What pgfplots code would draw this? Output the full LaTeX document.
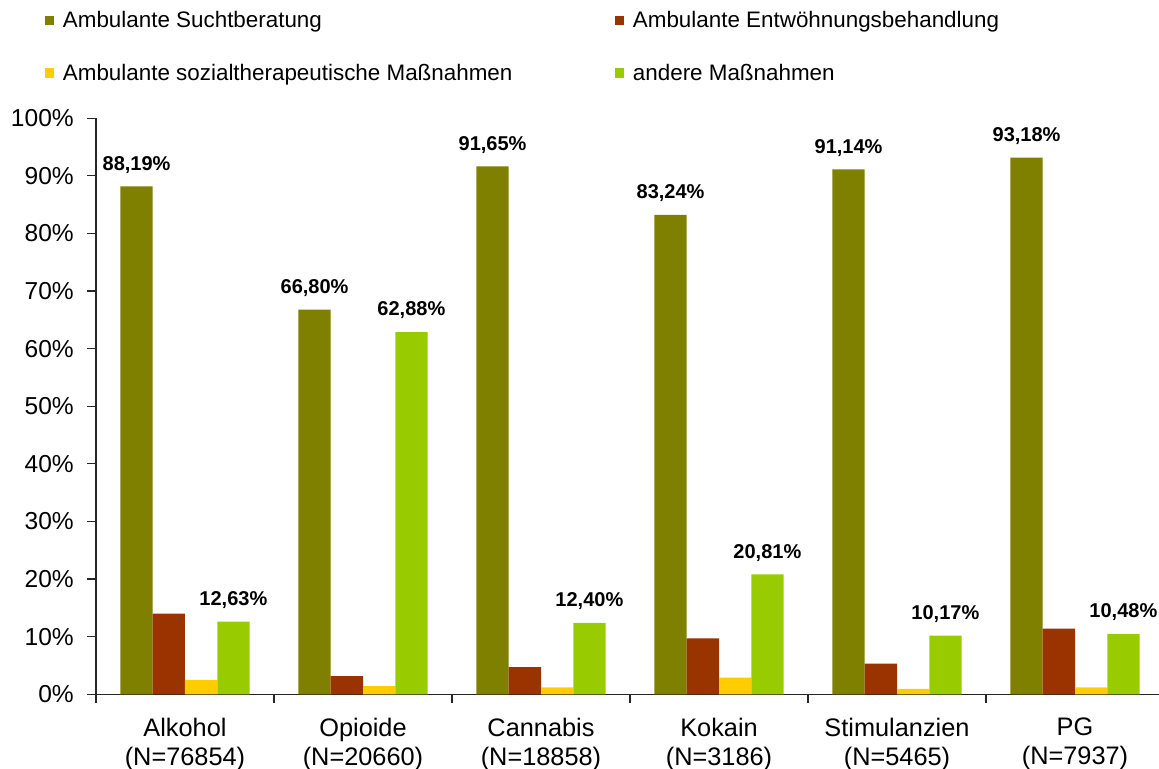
\documentclass[border=0pt]{standalone}
\usepackage{pgfplots}
\pgfplotsset{compat=1.18}
\usepackage{fontspec}
\setmainfont{Liberation Sans}
\definecolor{cA}{RGB}{128,128,0}
\definecolor{cB}{RGB}{153,51,0}
\definecolor{cC}{RGB}{255,204,0}
\definecolor{cD}{RGB}{153,204,0}
\pgfplotsset{
  ybar legend/.style={legend image code/.code={\fill[##1] (0pt,-2pt) rectangle (7pt,5pt);}},
  mylegend/.style={
    legend style={draw=none, fill=none, inner sep=0pt, outer sep=0pt,
      anchor=north west, legend columns=2,
      font=\fontsize{16.8}{19}\selectfont,
      nodes={inner sep=0pt, text height=12pt, text depth=3.5pt},
      /tikz/every odd column/.append style={column sep=6.5pt},
      /tikz/every even column/.append style={column sep=0pt},
    },
    legend cell align=left,
    legend image code/.code={\fill[##1] (0pt,-2pt) rectangle (7pt,5pt);},
  }
}
\begin{document}
\begin{tikzpicture}
\path[use as bounding box] (-72pt,-56pt) rectangle (797.25pt,520.7pt);
\begin{axis}[
  mylegend,
  legend style={at={(-0.0478,1.1845)}},
  scale only axis, width=801pt, height=432pt,
  ymin=0, ymax=100, xmin=-0.5, xmax=5.5,
  axis x line*=bottom, axis y line*=left,
  axis line style={black!85, line width=0.9pt},
  tick style={black!85, line width=0.9pt},
  tick align=outside, major tick length=6.5pt,
  ybar=0pt, bar width=24.2pt,
  ytick={0,10,...,100},
  yticklabels={0\%,10\%,20\%,30\%,40\%,50\%,60\%,70\%,80\%,90\%,100\%},
  yticklabel style={font=\fontsize{18.4}{22}\selectfont, inner sep=0pt, xshift=-10pt},
  xtick={-0.5,0.5,...,5.5},
  x tick label as interval,
  xticklabels={{Alkohol\\(N=76854)},{Opioide\\(N=20660)},{Cannabis\\(N=18858)},{Kokain\\(N=3186)},{Stimulanzien\\(N=5465)},{PG\\(N=7937)}},
  xticklabel style={align=center, font=\fontsize{19}{22}\selectfont, inner sep=0pt, yshift=-11pt},
  every node near coord/.append style={font=\bfseries\fontsize{15}{17}\selectfont, inner sep=0pt, text depth=0pt, anchor=south, yshift=12pt, black},
]
\addplot[fill=cA, draw=none, nodes near coords={\pgfmathprintnumber[fixed,fixed zerofill,precision=2,use comma,assume math mode=true]{\pgfplotspointmeta}\%}]
  coordinates {(0,88.19) (1,66.80) (2,91.65) (3,83.24) (4,91.14) (5,93.18)};
\addlegendentry{\makebox[414pt][l]{Ambulante Suchtberatung}}
\addplot[fill=cB, draw=none]
  coordinates {(0,14.0) (1,3.15) (2,4.7) (3,9.7) (4,5.3) (5,11.4)};
\addlegendentry{Ambulante Entwöhnungsbehandlung}
\addplot[fill=cC, draw=none]
  coordinates {(0,2.5) (1,1.4) (2,1.2) (3,2.9) (4,0.95) (5,1.2)};
\addplot[fill=cD, draw=none, nodes near coords={\pgfmathprintnumber[fixed,fixed zerofill,precision=2,use comma,assume math mode=true]{\pgfplotspointmeta}\%}]
  coordinates {(0,12.63) (1,62.88) (2,12.40) (3,20.81) (4,10.17) (5,10.48)};
\end{axis}
\begin{axis}[
  mylegend,
  legend style={at={(-0.0478,1.0933)}},
  scale only axis, width=801pt, height=432pt,
  hide axis, xmin=0, xmax=1, ymin=0, ymax=1,
]
\addlegendimage{fill=cC, draw=none}
\addlegendentry{\makebox[414pt][l]{Ambulante sozialtherapeutische Maßnahmen}}
\addlegendimage{fill=cD, draw=none}
\addlegendentry{andere Maßnahmen}
\end{axis}
\end{tikzpicture}
\end{document}
